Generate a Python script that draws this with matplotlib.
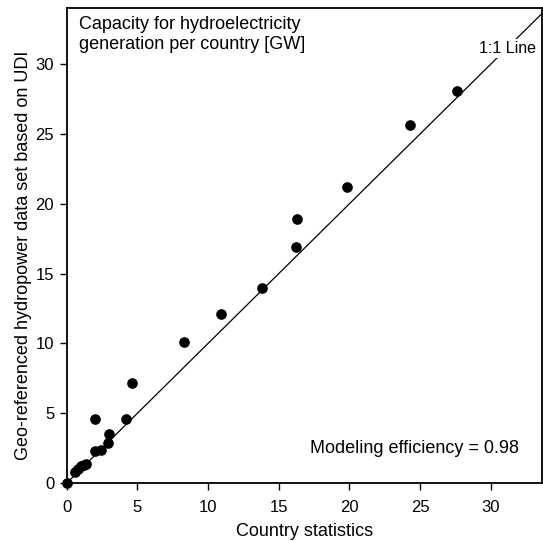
import matplotlib
matplotlib.use("Agg")
import matplotlib.pyplot as plt
import numpy as np

plt.rcParams['font.family'] = ['Liberation Sans', 'DejaVu Sans']

country_stats = [0.0, 0.6, 0.8, 1.0, 1.2, 1.4, 2.0, 2.4, 2.9, 3.0, 2.0, 4.2, 4.6,
                 8.3, 10.9, 13.8, 16.2, 16.3, 19.8, 24.3, 27.6]
udi_values = [0.0, 0.8, 1.0, 1.2, 1.3, 1.4, 2.3, 2.4, 2.9, 3.5, 4.6, 4.6, 7.2,
              10.1, 12.1, 14.0, 16.9, 18.9, 21.2, 25.6, 28.1]
ticks = [0, 5, 10, 15, 20, 25, 30]

fig = plt.figure(figsize=(5.43, 5.41), dpi=100)
ax = fig.add_axes([0.1228, 0.107, 0.875, 0.878])

ax.plot([0, 40], [0, 40], color='black', lw=0.9, zorder=1)
ax.scatter(country_stats, udi_values, s=44, color='black', zorder=3, clip_on=False)

ax.set_xlim(0, 33.6)
ax.set_ylim(0, 34.0)
ax.set_xticks(ticks)
ax.set_yticks(ticks)
ax.tick_params(direction='out', length=5, width=1, labelsize=12)
ax.tick_params(axis='x', pad=7)
ax.tick_params(axis='y', pad=4)
for sp in ax.spines.values():
    sp.set_linewidth(1.3)

ax.set_xlabel('Country statistics', fontsize=13, labelpad=6)
ax.set_ylabel('Geo-referenced hydropower data set based on UDI', fontsize=13)
ax.yaxis.set_label_coords(-0.072, 0.48)

ax.text(0.9, 33.4, 'Capacity for hydroelectricity\ngeneration per country [GW]',
        fontsize=13, va='top', ha='left', linespacing=1.2)
ax.text(31.2, 31.1, '1:1 Line', fontsize=11.5, ha='center', va='center',
        bbox=dict(facecolor='white', edgecolor='none', pad=1.5), zorder=2)
ax.text(32.0, 2.5, 'Modeling efficiency = 0.98', fontsize=13, ha='right', va='center')

fig.savefig('out.png', dpi=100)
